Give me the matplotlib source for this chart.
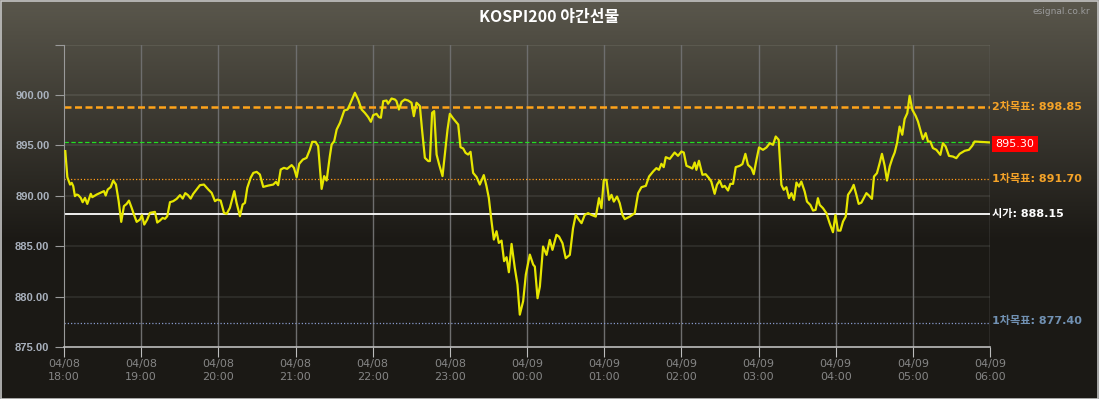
import numpy as np
import matplotlib
matplotlib.use("Agg")
import matplotlib.pyplot as plt
from matplotlib.colors import to_rgb
from matplotlib.transforms import blended_transform_factory
from matplotlib.patches import Rectangle

plt.rcParams['font.family'] = ['DejaVu Sans', 'Noto Sans CJK KR']

# ---------------- data ----------------
title = "KOSPI200 야간선물"
# minutes after 04/08 18:00
minutes = [1.0, 2.6, 4.7, 6.0, 7.2, 8.5, 9.9, 11.1, 13.0, 14.5, 16.3, 18.1, 20.8, 22.0, 25.4,
           29.3, 31.1, 32.4, 34.0, 36.3, 38.3, 40.4, 42.5, 44.5, 46.6, 48.7, 50.5, 52.6, 54.4,
           56.5, 59.1, 60.6, 62.4, 64.7, 66.8, 70.7, 72.5, 74.6, 76.7, 78.5, 80.3, 82.4, 84.9,
           87.6, 90.2, 92.3, 94.3, 96.4, 98.5, 100.5, 103.1, 105.7, 108.8, 112.2, 114.8, 117.4,
           119.2, 121.8, 124.4, 126.5, 129.0, 132.4, 134.2, 136.8, 138.9, 140.7, 142.5, 145.1,
           147.2, 149.8, 152.3, 154.9, 158.8, 162.7, 164.8, 166.5, 168.5, 171.0, 173.5, 177.0,
           178.8, 180.9, 182.9, 185.7, 188.6, 191.2, 193.0, 195.6, 197.6, 200.3, 202.3, 204.2,
           206.7, 208.1, 210.1, 212.0, 214.6, 217.9, 220.5, 222.3, 226.2, 228.7, 231.4, 233.9,
           236.5, 238.6, 240.4, 243.0, 244.8, 246.4, 248.2, 250.8, 252.0, 254.7, 257.3, 258.5,
           260.4, 262.5, 265.0, 267.6, 270.2, 272.0, 274.1, 276.7, 278.5, 280.6, 283.2, 284.5,
           286.2, 287.8, 289.7, 291.7, 294.3, 296.1, 298.2, 300.0, 302.6, 306.5, 308.3, 310.4,
           312.2, 314.2, 316.1, 318.1, 320.8, 323.3, 324.6, 326.4, 328.5, 330.3, 332.4, 334.2,
           336.3, 338.1, 340.2, 342.2, 344.1, 345.9, 348.0, 350.5, 352.6, 354.4, 357.0, 359.1,
           362.2, 364.8, 366.1, 368.2, 370.0, 372.5, 375.2, 377.7, 379.8, 382.9, 384.9, 387.6,
           390.1, 393.3, 395.8, 397.9, 400.4, 402.4, 404.9, 407.5, 410.1, 413.5, 416.0, 417.9,
           419.7, 421.8, 423.8, 425.7, 427.5, 430.0, 432.1, 434.2, 436.0, 439.9, 443.8, 446.4,
           449.0, 452.4, 454.9, 458.0, 460.6, 462.6, 464.5, 466.3, 467.9, 471.0, 474.8, 477.4,
           480.1, 481.9, 484.0, 486.5, 488.6, 490.4, 491.7, 493.7, 496.4, 498.9, 501.5, 503.3,
           505.9, 507.7, 509.8, 511.9, 513.7, 516.3, 518.1, 520.2, 522.3, 525.4, 527.5, 529.8,
           531.8, 534.5, 536.3, 538.4, 540.4, 543.5, 546.2, 548.8, 551.3, 553.4, 555.7, 557.8,
           559.6, 561.7, 563.7, 565.6, 567.6, 569.5, 571.5, 573.3, 575.9, 577.7, 580.3, 582.4,
           584.4, 586.2, 587.6, 590.1, 592.8, 595.3, 597.9, 599.8, 601.8, 603.7, 605.7, 607.8,
           609.6, 612.2, 614.0, 616.1, 617.9, 620.0, 621.8, 623.9, 625.9, 628.2, 629.8, 632.1,
           634.2, 636.0, 638.1, 639.9, 642.0, 644.1, 645.9, 647.7, 649.7, 651.8, 653.6, 655.7,
           657.5, 659.6, 662.2, 664.0, 665.8, 667.8, 670.0, 671.8, 673.6, 675.6, 678.3, 681.4,
           683.4, 685.5, 688.1, 691.2, 693.8, 696.4, 700.3, 703.6, 706.2, 708.0, 720.0]
prices = [894.44, 891.86, 891.12, 891.29, 890.96, 889.97, 890.13, 890.07, 889.80, 889.37, 889.80,
          889.20, 890.20, 889.87, 890.13, 890.37, 890.47, 890.03, 890.63, 890.86, 891.52, 891.12,
          889.47, 887.42, 888.98, 889.20, 889.53, 888.81, 888.14, 887.42, 887.65, 888.08, 887.15,
          887.65, 888.31, 888.41, 887.35, 887.55, 887.81, 887.72, 887.98, 889.37, 889.47, 889.70,
          890.07, 889.73, 890.27, 890.07, 889.73, 890.20, 890.63, 891.06, 891.12, 890.63, 890.30,
          889.47, 889.63, 889.53, 888.31, 888.21, 888.81, 890.47, 889.30, 887.98, 889.14, 889.30,
          890.79, 891.79, 892.28, 892.38, 892.12, 890.89, 891.02, 891.12, 891.39, 891.06, 892.61,
          892.78, 892.68, 893.05, 892.78, 891.86, 893.18, 893.60, 893.77, 894.60, 895.36, 895.36,
          894.94, 890.69, 891.96, 891.52, 893.94, 895.10, 895.43, 896.58, 897.25, 898.47, 898.57,
          899.07, 900.23, 899.56, 898.57, 898.24, 897.82, 897.35, 898.01, 898.14, 897.82, 897.75,
          899.40, 899.46, 899.14, 899.66, 899.56, 899.40, 898.57, 899.33, 899.56, 899.46, 899.24,
          897.91, 899.24, 898.91, 896.42, 893.77, 893.45, 893.45, 898.24, 898.41, 894.10, 893.11,
          891.96, 894.10, 896.58, 898.14, 897.68, 897.08, 894.83, 894.70, 894.27, 894.10, 894.37,
          892.28, 891.86, 891.12, 891.52, 892.06, 890.96, 889.80, 887.49, 885.66, 886.49, 885.33,
          885.56, 883.52, 883.91, 882.42, 885.23, 882.85, 881.19, 878.21, 879.54, 882.19, 884.17,
          883.18, 882.98, 879.84, 881.00, 884.97, 884.14, 885.63, 884.64, 886.13, 885.96, 885.30,
          883.81, 884.14, 886.79, 888.11, 887.62, 887.29, 888.11, 888.28, 888.11, 887.94, 889.77,
          888.78, 891.59, 891.59, 889.60, 890.10, 889.43, 889.93, 889.27, 888.11, 887.69, 887.94,
          888.28, 890.27, 890.86, 890.99, 891.92, 892.41, 892.75, 892.58, 893.18, 892.85, 893.84,
          893.67, 894.30, 893.97, 894.40, 894.30, 892.98, 892.85, 892.71, 893.31, 892.58, 893.48,
          892.09, 892.15, 891.76, 891.42, 890.20, 891.09, 891.52, 890.86, 890.99, 890.53, 891.19,
          891.19, 892.85, 892.98, 893.15, 894.17, 893.08, 892.75, 892.15, 893.57, 894.80, 894.57,
          894.80, 895.23, 895.06, 895.89, 895.56, 891.09, 890.60, 890.86, 889.77, 890.27, 889.60,
          891.32, 890.92, 891.42, 890.43, 889.43, 889.10, 888.54, 888.61, 889.77, 889.10, 888.78,
          888.28, 887.29, 886.39, 888.11, 886.55, 886.55, 887.45, 887.94, 890.10, 890.60, 891.09,
          890.10, 889.20, 889.33, 889.77, 890.27, 890.03, 889.70, 891.92, 892.25, 893.25, 894.17,
          892.98, 891.52, 892.91, 893.74, 894.30, 895.23, 896.88, 896.06, 897.62, 898.21, 899.93,
          898.54, 897.94, 897.38, 896.55, 895.63, 896.23, 895.39, 895.39, 894.74, 894.57, 894.07,
          895.23, 894.90, 893.97, 893.90, 893.74, 894.17, 894.47, 894.57, 894.97, 895.39, 895.30]

current_price = 895.30
target2_up = 898.85
target1_up = 891.70
open_price = 888.15
target1_down = 877.40

tick_minutes = [0, 60, 120, 180, 240, 300, 360, 420, 480, 540, 600, 660, 720]
tick_dates = ["04/08"] * 6 + ["04/09"] * 7
tick_times = ["18:00", "19:00", "20:00", "21:00", "22:00", "23:00", "00:00",
              "01:00", "02:00", "03:00", "04:00", "05:00", "06:00"]
y_ticks = [875, 880, 885, 890, 895, 900, 905]

# ---------------- figure ----------------
W, H = 1099, 399
fig = plt.figure(figsize=(W / 100, H / 100), dpi=100)

# background gradient
bg = fig.add_axes([0, 0, 1, 1], zorder=-10)
bg.axis('off')
top_c = np.array(to_rgb('#5a574c'))
bot_c = np.array(to_rgb('#1b1915'))
rows = np.arange(H)
t = np.clip(rows / 240.0, 0, 1)[:, None]
grad = top_c * (1 - t) + bot_c * t
img = np.repeat(grad[:, None, :], 2, axis=1)
bg.imshow(img, aspect='auto', extent=[0, 1, 0, 1], origin='upper')
bg.set_xlim(0, 1)
bg.set_ylim(0, 1)
bg.add_patch(Rectangle((0.0005, 0.001), 0.999, 0.997, fill=False, ec='#c4c4c4', lw=1.2,
                       transform=bg.transAxes))

left, right = 64 / W, 990 / W
bottom, top = (H - 347) / H, (H - 44.7) / H
ax = fig.add_axes([left, bottom, right - left, top - bottom])
ax.set_facecolor('none')
ax.set_xlim(0, 720)
ax.set_ylim(875, 905)

# grid
for yv in y_ticks[1:]:
    ax.axhline(yv, color='white', alpha=0.08, lw=1.4, zorder=1)
for xv in tick_minutes[1:]:
    ax.axvline(xv, color='#6e6e6e', lw=1.0, zorder=1)

# reference lines
ax.axhline(target2_up, color='#ffa31a', lw=1.8, ls=(0, (2.8, 1.4)), zorder=2)
ax.axhline(current_price, color='#22dd22', lw=0.9, ls=(0, (3.5, 2)), zorder=2)
ax.axhline(target1_up, color='#ff9a1a', lw=0.9, ls=(0, (1, 1.6)), zorder=2)
ax.axhline(open_price, color='white', lw=1.3, zorder=2)
ax.axhline(target1_down, color='#8899cc', lw=0.9, ls=(0, (1, 1.6)), zorder=2)

# price line
ax.plot(minutes, prices, color='#e6e600', lw=1.6, zorder=3, solid_joinstyle='round')

# axes styling
for s in ['top', 'right']:
    ax.spines[s].set_visible(False)
ax.spines['left'].set_color('#9a9a9a')
ax.spines['bottom'].set_color('#bdbdbd')
ax.spines['bottom'].set_linewidth(1.2)

ax.set_yticks(y_ticks)
ax.set_yticklabels([f"{v:.2f}" if v < 905 else "" for v in y_ticks],
                   fontsize=8, fontweight='bold', color='#a9b1bd', family='Liberation Sans')
ax.tick_params(axis='y', length=6.5, color='#9a9a9a', pad=4)
ax.set_xticks(tick_minutes)
ax.set_xticklabels([f"{d}\n{tm}" for d, tm in zip(tick_dates, tick_times)],
                   fontsize=8, color='#858585', linespacing=1.25)
ax.tick_params(axis='x', length=7.5, color='#bdbdbd', pad=1.5)

# right-side labels
tr = blended_transform_factory(ax.transAxes, ax.transData)
xr = 1.0 + 2.5 / (990 - 64)
ax.text(xr, target2_up, f"2차목표: {target2_up:.2f}", transform=tr, color='#f5a328',
        fontsize=8, fontweight='bold', va='center', ha='left', clip_on=False)
ax.text(xr + 3 / 926, current_price - 0.15, f"{current_price:.2f}", transform=tr, color='white',
        fontsize=8, va='center', ha='left', clip_on=False,
        bbox=dict(boxstyle='square,pad=0.3', fc='#ff0000', ec='none'))
ax.text(xr, target1_up, f"1차목표: {target1_up:.2f}", transform=tr, color='#f5a328',
        fontsize=8, fontweight='bold', va='center', ha='left', clip_on=False)
ax.text(xr, open_price, f"시가: {open_price:.2f}", transform=tr, color='white',
        fontsize=8, fontweight='bold', va='center', ha='left', clip_on=False)
ax.text(xr, target1_down + 0.15, f"1차목표: {target1_down:.2f}", transform=tr, color='#7191b3',
        fontsize=8, fontweight='bold', va='center', ha='left', clip_on=False)

# title and source
fig.text(0.5, 1 - 17 / H, title, ha='center', va='center', color='white',
         fontsize=11.5, fontweight='bold', family=['Noto Sans CJK KR', 'DejaVu Sans'])
fig.text(1 - 9 / W, 1 - 12 / H, "esignal.co.kr", ha='right', va='center', color='#9a9a9a',
         fontsize=6.5)

fig.savefig('out.png', dpi=100)
